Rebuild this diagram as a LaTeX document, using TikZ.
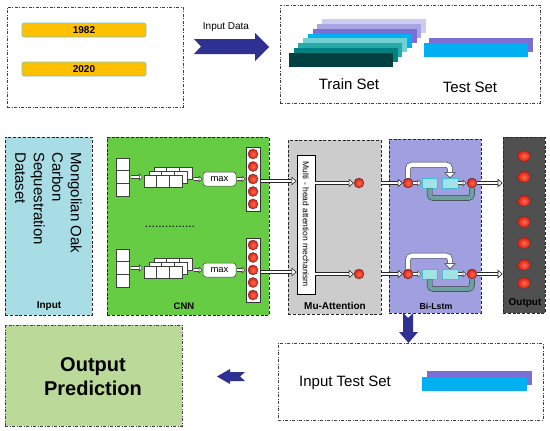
\documentclass[tikz,border=0pt]{standalone}
\usepackage{fontspec}
\setmainfont{Liberation Sans}
\usetikzlibrary{arrows.meta,fit,shapes.geometric,calc}

\definecolor{navy}{RGB}{46,49,146}
\definecolor{gold}{RGB}{255,192,0}
\definecolor{baredge}{RGB}{110,200,215}
\definecolor{inblue}{RGB}{168,221,229}
\definecolor{cnngreen}{RGB}{102,204,68}
\definecolor{attgray}{RGB}{204,204,204}
\definecolor{lstmlav}{RGB}{160,160,224}
\definecolor{outgray}{RGB}{80,80,80}
\definecolor{predgreen}{RGB}{187,218,153}
\definecolor{cellcyan}{RGB}{160,226,230}
\definecolor{celledge}{RGB}{70,190,210}
\definecolor{loopteal}{RGB}{110,160,160}
\definecolor{ballin}{RGB}{255,110,80}
\definecolor{ballout}{RGB}{225,25,15}
\definecolor{tr0}{RGB}{0,64,64}
\definecolor{tr1}{RGB}{0,128,128}
\definecolor{tr2}{RGB}{40,170,170}
\definecolor{tr3}{RGB}{110,210,210}
\definecolor{tr4}{RGB}{0,176,240}
\definecolor{tr5}{RGB}{123,111,214}
\definecolor{tr6}{RGB}{168,163,226}
\definecolor{tr7}{RGB}{204,204,240}

\tikzset{
  ddbox/.style={draw=black!75, line width=0.6pt, dash pattern=on 3pt off 1.5pt on 1pt off 1.5pt, inner sep=0pt},
  dbox/.style={draw=black!85, line width=0.6pt, dash pattern=on 3pt off 1.8pt, inner sep=0pt},
  cell/.style={draw=black!75, fill=white, line width=0.5pt, minimum width=12.67pt, minimum height=12.67pt, inner sep=0pt},
  lcell/.style={draw=celledge, fill=cellcyan, line width=0.6pt, minimum height=10pt, inner sep=0pt},
  ball/.style={circle, draw=black!75, line width=0.4pt, shading=radial, inner color=ballin, outer color=ballout, minimum size=10pt, inner sep=0pt},
  oball/.style={ellipse, draw=black!75, line width=0.4pt, shading=radial, inner color=ballin, outer color=ballout, minimum width=13pt, minimum height=11pt, inner sep=0pt},
  dblarrow/.style={draw=black!85, line width=0.6pt, double=white, double distance=2.6pt, -{Triangle[open, fill=white, length=5pt, width=8.5pt]}},
  smallarrow/.style={draw=black!75, line width=0.5pt, double=white, double distance=2.4pt, -{Triangle[open, fill=white, length=3.5pt, width=7pt]}},
  tube/.style={draw=black!80, line width=0.5pt, double distance=4.5pt, rounded corners=4pt},
  bar/.style={fill=gold, draw=baredge, line width=0.6pt, rounded corners=2pt, inner sep=0pt},
  lbl/.style={font=\bfseries\fontsize{10}{12}\selectfont, inner sep=0pt},
}

\newcommand\pipelinerow[2]{%
  % CNN input column
  \foreach \k in {0,1,2}
    \node[cell] (col#2\k) at (123,{#1-14.67+12.67*\k}) {};
  % feature map stack
  \foreach \ox/\oy/\nm in {10/-8/bk,5/-4/md,0/0/fr}{
    \foreach \k in {0,1,2}
      \node[cell, minimum height=12pt] (\nm#2\k) at ({150.33+12.67*\k+\ox},{#1+2+\oy}) {};
  }
  \node[draw=black!75, fill=white, line width=0.5pt, rounded corners=3pt, minimum width=33pt, minimum height=14pt, inner sep=0pt, font=\fontsize{9.5}{11}\selectfont] (mx#2) at (219.5,#1) {max};
  \node[draw=black!80, fill=white, line width=0.5pt, minimum width=14pt, minimum height=64pt, inner sep=0pt] (cc#2) at (253,#1) {};
  \foreach \k [count=\n] in {-2,-1,0,1,2}
    \node[ball] (cb#2\n) at (253,{#1+12.5*\k}) {};
  \draw[smallarrow, shorten <=1pt, shorten >=1pt] (col#21.east) -- (col#21.east -| fr#20.west);
  \draw[smallarrow, shorten <=1.5pt, shorten >=0.5pt] (bk#22.east |- mx#2) -- (mx#2.west);
  \draw[smallarrow, shorten <=0.5pt, shorten >=0.5pt] (mx#2.east) -- (cc#2.west);
  % to attention
  \draw[dblarrow, shorten <=1pt] ([yshift=-2pt]cc#2.east) -- ([yshift=-2pt]cc#2.east -| mh.west);
  \node[ball] (at#2) at (359,{#1+4}) {};
  \draw[dblarrow] (mh.east |- at#2) -- (at#2.west);
  % Bi-LSTM unit
  \node[ball] (lo#2) at (408,{#1+4}) {};
  \node[lcell, minimum width=15pt] (lc#2) at (429.5,{#1+4}) {};
  \node[lcell, minimum width=16pt] (ld#2) at (450,{#1+4}) {};
  \node[ball] (lp#2) at (472,{#1+4}) {};
  \draw[dblarrow] (att.east |- lo#2) -- (lo#2.west);
  \draw[smallarrow, shorten >=0.5pt] (lo#2.east) -- (lc#2.west);
  \draw[smallarrow, shorten >=0.5pt] (ld#2.east) -- (lp#2.west);
  \draw[tube, double=white] (lo#2.north) |- ([yshift=13pt]ld#2.north) -- ([yshift=5pt]ld#2.north);
  \filldraw[fill=white, draw=black!80, line width=0.5pt] ([xshift=-5pt,yshift=5pt]ld#2.north) -- ([xshift=5pt,yshift=5pt]ld#2.north) -- (ld#2.north) -- cycle;
  \draw[tube, double=loopteal] (lc#2.south) |- ([yshift=-10pt]lp#2.south) -- (lp#2.south);
  \draw[dblarrow] (lp#2.east) -- (lp#2.east -| out.west);
}

\begin{document}
\begin{tikzpicture}[x=1pt,y=-1pt]
\useasboundingbox (0,0) rectangle (550,431);

% ---------- top row ----------
\node[ddbox, fit={(7,7)(183,107)}] (tl) {};
\node[bar, fit={(22,23)(146,37)}] (y1982) {};
\node[lbl] at (y1982.center) {1982};
\node[bar, fit={(22,62)(146,76)}] (y2020) {};
\node[lbl] at (y2020.center) {2020};

\node[font=\fontsize{10}{12}\selectfont, inner sep=0pt] (indata) at (226,27) {Input Data};
\fill[navy] (194,39) -- (255,39) -- (255,33) -- (269,47) -- (255,61) -- (255,54) -- (194,54) -- (201,46.5) -- cycle;

\node[ddbox, fit={(280,5)(540,103)}] (tr) {};
\foreach \i in {7,6,...,0}
  \fill[tr\i] ({289+4.7*\i},{53-4.86*\i}) rectangle ++(104,14);
\fill[tr5] (429,38) rectangle (533,52);
\fill[tr4] (424,43) rectangle (528,57);
\node[font=\fontsize{15}{18}\selectfont, inner sep=0pt] (trainlbl) at (349,84) {Train Set};
\node[font=\fontsize{15}{18}\selectfont, inner sep=0pt] (testlbl) at (470,87) {Test Set};

% ---------- middle row boxes ----------
\node[dbox, fill=inblue, fit={(5,137)(92,315)}] (inp) {};
\node[rotate=-90, align=left, anchor=north west, inner sep=0pt, font=\fontsize{15}{18.5}\selectfont] (dstxt) at (82,152) {Mongolian Oak\\Carbon\\Sequestration\\Dataset};
\node[lbl] (inplbl) at (49,306) {Input};

\node[dbox, fill=cnngreen, fit={(107,137)(269,315)}] (cnn) {};
\node[lbl, font=\bfseries\fontsize{9.5}{11}\selectfont] (cnnlbl) at (184,306) {CNN};
\node[anchor=base, inner sep=0pt, font=\fontsize{12}{14}\selectfont] (dots) at (170,227) {...............};

\node[dbox, fill=attgray, fit={(288,140)(381,314)}] (att) {};
\node[lbl] (attlbl) at (335,306) {Mu-Attention};
\node[draw=black, fill=white, line width=0.8pt, inner sep=0pt, fit={(297,155)(315,294)}] (mh) {};
\node[rotate=-90, inner sep=0pt, font=\fontsize{8.5}{10}\selectfont] (mhtxt) at (mh.center) {Multi - head attention mechanism};

\node[dbox, fill=lstmlav, fit={(389,139)(481,313)}] (lstm) {};
\node[lbl, font=\bfseries\fontsize{8.8}{11}\selectfont] (lstmlbl) at (436,306) {Bi-Lstm};

\node[dbox, fill=outgray, fit={(503,137)(545,313)}] (out) {};
\node[lbl] (outlbl) at (525,303) {Output};
\foreach \yy [count=\n] in {156,177,201,222,243,265,283}
  \node[oball] (ob\n) at (524,\yy) {};

\pipelinerow{179}{a}
\pipelinerow{270}{b}

% ---------- bottom row ----------
\fill[navy] (403,313) -- (408,318) -- (413,313) -- (413,332) -- (418,332) -- (408.5,343) -- (399,332) -- (403,332) -- cycle;

\node[ddbox, fill=predgreen, fit={(5,325)(182,426)}] (pred) {};
\node[align=center, inner sep=0pt, font=\bfseries\fontsize{20}{24}\selectfont] (predtxt) at (93,377) {Output\\Prediction};

\fill[navy] (217,376.5) -- (230,369) -- (230,372) -- (245,372) -- (240,376.5) -- (245,381) -- (230,381) -- (230,384) -- cycle;

\node[ddbox, fit={(278,343)(543,420)}] (its) {};
\node[anchor=west, inner sep=0pt, font=\fontsize{15}{18}\selectfont] (itstxt) at (299,383) {Input Test Set};
\fill[tr5] (427,371) rectangle (532,385);
\fill[tr4] (422,377) rectangle (527,391);
\end{tikzpicture}
\end{document}
